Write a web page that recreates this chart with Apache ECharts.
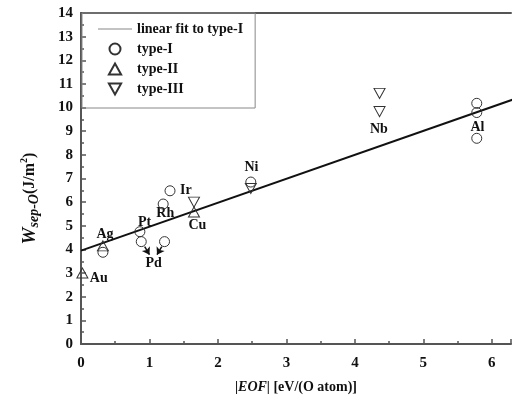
<!DOCTYPE html>
<html><head><meta charset="utf-8">
<script src="https://cdn.jsdelivr.net/npm/echarts@6/dist/echarts.min.js"></script>
<style>html,body{margin:0;padding:0;background:#fff}#c{width:514px;height:406px}</style>
</head><body><div id="c"></div>
<script>
const fitLine = [[0, 3.95], [6.3, 10.33]];
const typeI = [[0.32, 3.88], [0.86, 4.75], [0.88, 4.33], [1.22, 4.33], [1.20, 5.92], [1.30, 6.48], [2.48, 6.85], [5.78, 10.18], [5.78, 9.79], [5.78, 8.70]];
const typeII = [[0.02, 3.0], [0.32, 4.15], [1.65, 5.58]];
const typeIII = [[1.65, 6.0], [2.48, 6.58], [4.36, 10.6], [4.36, 9.83]];
const elementLabels = [
  ['Au', 0.26, 2.79], ['Ag', 0.35, 4.65], ['Pt', 0.93, 5.16], ['Rh', 1.23, 5.54],
  ['Ir', 1.53, 6.51], ['Pd', 1.06, 3.43], ['Cu', 1.70, 5.03], ['Ni', 2.49, 7.49],
  ['Nb', 4.35, 9.09], ['Al', 5.79, 9.18]
];
const pdArrows = [[[0.93, 4.12], [1.0, 3.78]], [[1.18, 4.12], [1.11, 3.78]]];
const xTicks = [0, 1, 2, 3, 4, 5, 6];

const FONT = 'Liberation Serif';
const ink = '#111';
const hollow = {color: 'rgba(255,255,255,0)', borderColor: '#333', borderWidth: 1, opacity: 1};
const triUp = 'path://M5,0 L10,9 L0,9 Z';
const triDown = 'path://M0,0 L10,0 L5,9 Z';

const chart = echarts.init(document.getElementById('c'));
chart.setOption({
  animation: false,
  grid: {left: 81, right: 0, top: 13, bottom: 62},
  legend: {
    orient: 'vertical', left: 82, top: 13, padding: [9, 12, 12, 16],
    itemGap: 6, itemWidth: 34, itemHeight: 11, symbolKeepAspect: true,
    borderColor: '#888', borderWidth: 1,
    textStyle: {fontFamily: FONT, fontWeight: 'bold', fontSize: 14, color: ink},
    data: [
      {name: 'linear fit to type-I', icon: 'path://M0,0 L100,0 L100,3 L0,3 Z', itemStyle: {color: '#888', borderWidth: 0}},
      {name: 'type-I', icon: 'circle'},
      {name: 'type-II', icon: triUp},
      {name: 'type-III', icon: triDown}
    ]
  },
  xAxis: [{
    type: 'value', min: 0, max: 6.28, interval: 1,
    axisLine: {lineStyle: {color: '#555', width: 2}},
    axisTick: {inside: true, length: 5, lineStyle: {color: '#555', width: 1.5}},
    minorTick: {show: true, splitNumber: 2, length: 3, lineStyle: {color: '#555', width: 1.5}},
    splitLine: {show: false},
    axisLabel: {fontFamily: FONT, fontWeight: 'bold', fontSize: 15, color: ink, margin: 12,
      formatter: v => xTicks.includes(v) ? String(v) : ''},
    name: '{a||}{i|EOF}{a|| [eV/(O atom)]}', nameLocation: 'middle', nameGap: 36,
    nameTextStyle: {rich: {
      a: {fontFamily: FONT, fontWeight: 'bold', fontSize: 14, color: ink},
      i: {fontFamily: FONT, fontWeight: 'bold', fontStyle: 'italic', fontSize: 14, color: ink}
    }}
  }, {
    type: 'value', position: 'top', min: 0, max: 6.28,
    axisLine: {show: true, lineStyle: {color: '#555', width: 2}},
    axisTick: {show: false}, axisLabel: {show: false}, splitLine: {show: false}
  }],
  yAxis: {
    type: 'value', min: 0, max: 14, interval: 1,
    axisLine: {lineStyle: {color: '#555', width: 2}},
    axisTick: {inside: true, length: 5, lineStyle: {color: '#555', width: 1.5}},
    minorTick: {show: true, splitNumber: 2, length: 3, lineStyle: {color: '#555', width: 1.5}},
    splitLine: {show: false},
    axisLabel: {fontFamily: FONT, fontWeight: 'bold', fontSize: 15, color: ink, margin: 8},
    name: '{w|W}{s|sep-O}{a|(J/m}{sup|2}{a|)}', nameLocation: 'middle', nameGap: 40, nameRotate: 90,
    nameTextStyle: {padding: [0, 40, 0, 0], rich: {
      w: {fontFamily: FONT, fontWeight: 'bold', fontStyle: 'italic', fontSize: 19, color: ink},
      s: {fontFamily: FONT, fontWeight: 'bold', fontStyle: 'italic', fontSize: 14, color: ink, verticalAlign: 'bottom', padding: [8, 0, 0, 0]},
      a: {fontFamily: FONT, fontWeight: 'bold', fontSize: 16, color: ink},
      sup: {fontFamily: FONT, fontWeight: 'bold', fontSize: 10, color: ink, verticalAlign: 'top', padding: [0, 0, 9, 0]}
    }}
  },
  series: [
    {name: 'linear fit to type-I', type: 'line', data: fitLine, symbol: 'none',
     lineStyle: {color: ink, width: 2}, itemStyle: {color: '#888'}, z: 3},
    {name: 'type-I', type: 'scatter', data: typeI, symbol: 'circle', symbolSize: 10, itemStyle: hollow, z: 4},
    {name: 'type-II', type: 'scatter', data: typeII, symbol: triUp, symbolSize: [11, 10], itemStyle: hollow, z: 4},
    {name: 'type-III', type: 'scatter', data: typeIII, symbol: triDown, symbolSize: [11, 10], itemStyle: hollow, z: 4},
    {name: 'labels', type: 'scatter', symbol: 'circle', symbolSize: 1, silent: true,
     itemStyle: {color: 'rgba(0,0,0,0)', opacity: 1},
     data: elementLabels.map(d => ({value: [d[1], d[2]], name: d[0]})),
     label: {show: true, position: 'inside', formatter: p => p.name,
       fontFamily: FONT, fontWeight: 'bold', fontSize: 14, color: ink,
       textBorderWidth: 0, textBorderColor: 'transparent'},
     markLine: {silent: true, symbol: ['none', 'arrow'], symbolSize: 7,
       lineStyle: {color: ink, width: 1.5, type: 'solid', opacity: 1}, label: {show: false},
       data: pdArrows.map(a => [{coord: a[0]}, {coord: a[1]}])}
    }
  ]
});
</script></body></html>
